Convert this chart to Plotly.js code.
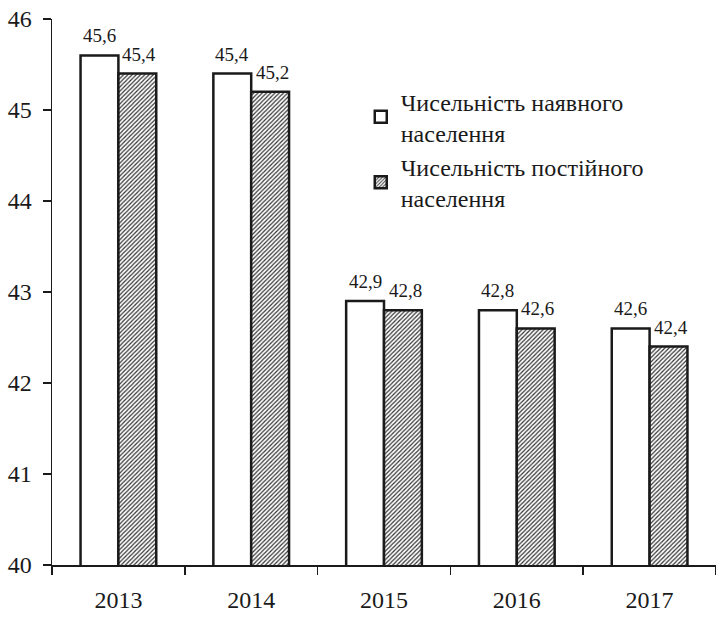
<!DOCTYPE html>
<html><head><meta charset="utf-8">
<script src="https://cdn.plot.ly/plotly-3.0.1.min.js"></script>
<style>html,body{margin:0;padding:0;background:#fff}</style>
</head><body>
<div id="chart" style="width:716px;height:619px"></div>
<script>
const years = ['2013','2014','2015','2016','2017'];
const presentPop = [45.6, 45.4, 42.9, 42.8, 42.6];
const permanentPop = [45.4, 45.2, 42.8, 42.6, 42.4];
const seriesNames = ['Чисельність наявного<br>населення', 'Чисельність постійного<br>населення'];

const font = 'Liberation Serif';
const ink = '#1a1a1a';
const traces = [
  {type:'bar', x:years, y:presentPop, name:seriesNames[0],
   marker:{color:'#ffffff', line:{color:ink, width:2.5}}},
  {type:'bar', x:years, y:permanentPop, name:seriesNames[1],
   marker:{color:'#ffffff', line:{color:ink, width:2.5},
     pattern:{shape:'/', fgcolor:'#333', bgcolor:'#ffffff', size:3, solidity:0.4}}}
];
const fmt = v => v.toFixed(1).replace('.', ',');
const annotations = [];
[presentPop, permanentPop].forEach((vals, s) => {
  vals.forEach((v, i) => annotations.push({
    x: i, y: v, xref:'x', yref:'y', text: fmt(v), showarrow:false,
    xshift: s === 0 ? -19 : 21, yshift: 7, yanchor:'bottom',
    font:{family:font, size:19, color:ink}
  }));
});
const layout = {
  width:716, height:619,
  margin:{l:52, r:0, t:19, b:54},
  paper_bgcolor:'#fff', plot_bgcolor:'#fff',
  font:{family:font, color:ink},
  barmode:'group', bargap:0.43, bargroupgap:0,
  showlegend:true,
  annotations: annotations,
  legend:{x:0.465, y:0.89, xanchor:'left', yanchor:'top', bgcolor:'rgba(0,0,0,0)',
    font:{family:font, size:24, color:ink}, tracegroupgap:0, itemwidth:30},
  xaxis:{type:'category', range:[-0.5, 4.5], showline:true, linecolor:ink, linewidth:1.5,
    ticks:'outside', ticklen:8, tickcolor:ink, tickwidth:1.5, tickson:'boundaries',
    tickfont:{family:font, size:24, color:ink}, ticklabelstandoff:13,
    showgrid:false, zeroline:false},
  yaxis:{range:[40,46], dtick:1, showline:true, linecolor:ink, linewidth:1.5,
    ticks:'outside', ticklen:8, tickcolor:ink, tickwidth:1.5,
    tickfont:{family:font, size:24, color:ink}, ticklabelstandoff:6,
    showgrid:false, zeroline:false}
};
Plotly.newPlot('chart', traces, layout, {displayModeBar:false, staticPlot:true});
</script>
</body></html>
